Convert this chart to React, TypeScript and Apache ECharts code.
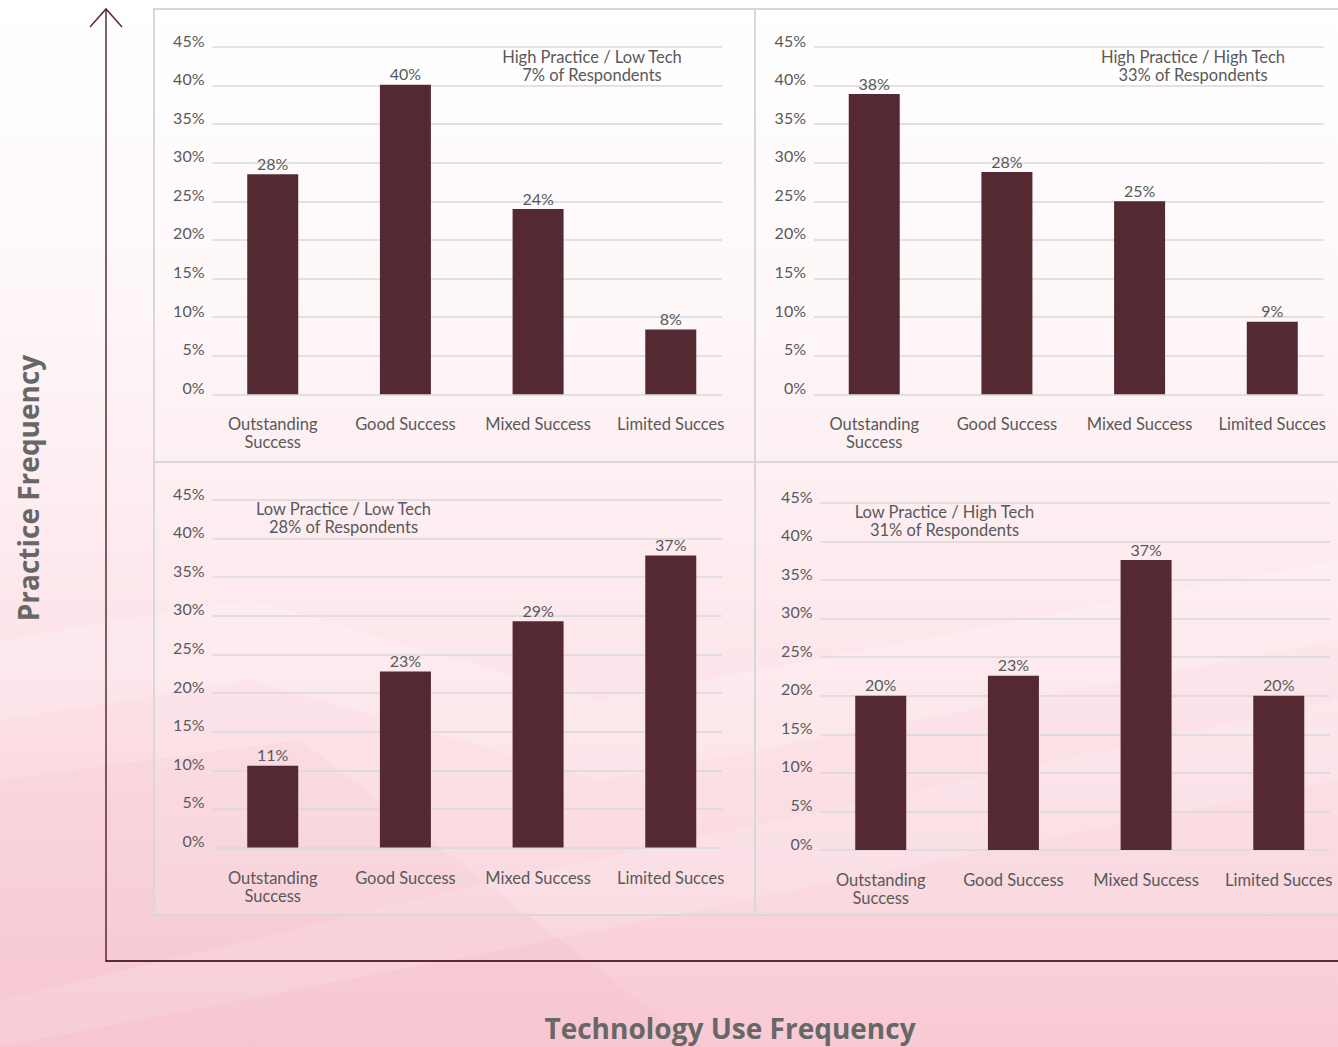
import React, { useEffect, useRef } from "react";
import * as echarts from "echarts";

// ---------- data ----------
const categories = ["Outstanding\nSuccess", "Good Success", "Mixed Success", "Limited Succes"];
const yMin = 0;
const yMax = 45;
const yInterval = 5;

const hpltValues = [28.5, 40.1, 24.0, 8.4];
const hpltLabels = ["28%", "40%", "24%", "8%"];
const hpltTitle = ["High Practice / Low Tech", "7% of Respondents"];

const hphtValues = [38.9, 28.8, 25.0, 9.4];
const hphtLabels = ["38%", "28%", "25%", "9%"];
const hphtTitle = ["High Practice / High Tech", "33% of Respondents"];

const lpltValues = [10.6, 22.8, 29.3, 37.8];
const lpltLabels = ["11%", "23%", "29%", "37%"];
const lpltTitle = ["Low Practice / Low Tech", "28% of Respondents"];

const lphtValues = [20.0, 22.6, 37.6, 20.0];
const lphtLabels = ["20%", "23%", "37%", "20%"];
const lphtTitle = ["Low Practice / High Tech", "31% of Respondents"];

const yAxisName = "Practice Frequency";
const xAxisName = "Technology Use Frequency";

// ---------- styling / layout ----------
const FONT = "Lato, 'Open Sans', sans-serif";
const BOLDFONT = "'Open Sans', Lato, sans-serif";
const TEXT = "#595959";
const AXIS = "#5a2a36";
const GRIDLINE = "#d9d9d9";

type Panel = {
  values: number[];
  labels: string[];
  title: string[];
  dx: number;
  dy: number;
  h: number;
  titleX: number;
  titleY: number;
};

const panels: Panel[] = [
  { values: hpltValues, labels: hpltLabels, title: hpltTitle, dx: 0, dy: 0, h: 347.3, titleX: 592, titleY: 57 },
  { values: hphtValues, labels: hphtLabels, title: hphtTitle, dx: 601.5, dy: 0, h: 347.3, titleX: 1193, titleY: 57 },
  { values: lpltValues, labels: lpltLabels, title: lpltTitle, dx: 0, dy: 453, h: 347.6, titleX: 343.5, titleY: 509 },
  { values: lphtValues, labels: lphtLabels, title: lphtTitle, dx: 608, dy: 456, h: 347, titleX: 944.5, titleY: 512 },
];

function buildOption() {
  const grid: any[] = [];
  const xAxis: any[] = [];
  const yAxis: any[] = [];
  const series: any[] = [];
  const graphic: any[] = [];

  // background
  graphic.push({
    type: "rect",
    z: -100,
    shape: { x: 0, y: 0, width: 1338, height: 1047 },
    style: {
      fill: new echarts.graphic.LinearGradient(0, 0, 0, 1, [
        { offset: 0, color: "#ffffff" },
        { offset: 0.28, color: "#fef7f9" },
        { offset: 0.5, color: "#fdebef" },
        { offset: 0.72, color: "#fcdde4" },
        { offset: 1, color: "#f8cad4" },
      ]),
    },
  });
  // subtle diagonal waves
  graphic.push({
    type: "polygon",
    z: -99,
    shape: { points: [[0, 640], [250, 600], [600, 700], [1338, 560], [1338, 640], [600, 780], [250, 680], [0, 720]] },
    style: { fill: "rgba(255,255,255,0.18)" },
  });
  graphic.push({
    type: "polygon",
    z: -99,
    shape: { points: [[0, 1000], [500, 880], [1338, 700], [1338, 780], [500, 950], [0, 1047]] },
    style: { fill: "rgba(255,255,255,0.15)" },
  });
  graphic.push({
    type: "polygon",
    z: -99,
    shape: { points: [[0, 780], [300, 740], [700, 1047], [0, 1047]] },
    style: { fill: "rgba(240,170,190,0.12)" },
  });

  // panel frame
  graphic.push({
    type: "rect",
    z: -50,
    shape: { x: 154, y: 9, width: 1200, height: 906 },
    style: { fill: "rgba(255,255,255,0.12)", stroke: "#d8d8d8", lineWidth: 2 },
  });
  graphic.push({ type: "line", z: -50, shape: { x1: 755, y1: 9, x2: 755, y2: 915 }, style: { stroke: "#d8d8d8", lineWidth: 2 } });
  graphic.push({ type: "line", z: -50, shape: { x1: 154, y1: 462, x2: 1338, y2: 462 }, style: { stroke: "#d8d8d8", lineWidth: 2 } });

  // main axes arrows
  graphic.push({ type: "line", z: 10, shape: { x1: 106, y1: 9, x2: 106, y2: 961 }, style: { stroke: AXIS, lineWidth: 1.5 } });
  graphic.push({ type: "line", z: 10, shape: { x1: 105.3, y1: 961, x2: 1338, y2: 961 }, style: { stroke: AXIS, lineWidth: 2.2 } });
  graphic.push({
    type: "polyline",
    z: 10,
    shape: { points: [[90, 27], [106, 9], [122, 27]] },
    style: { stroke: AXIS, lineWidth: 1.5, fill: "none" },
  });

  graphic.push({
    type: "text",
    z: 10,
    x: 28,
    y: 488,
    rotation: Math.PI / 2,
    style: {
      text: yAxisName,
      fill: "#676767",
      font: `bold 28px ${BOLDFONT}`,
      align: "center",
      verticalAlign: "middle",
    },
  });
  graphic.push({
    type: "text",
    z: 10,
    x: 730,
    y: 1028,
    style: {
      text: xAxisName,
      fill: "#676767",
      font: `bold 28px ${BOLDFONT}`,
      align: "center",
      verticalAlign: "middle",
    },
  });

  panels.forEach((p, i) => {
    const top = 47 + p.dy;
    // grid for gridlines and y labels
    grid.push({ left: 212.5 + p.dx, top, width: 509.5, height: p.h, outerBoundsMode: "none", containLabel: false });
    // grid for bars
    grid.push({ left: 206.4 + p.dx, top, width: 530.7, height: p.h, outerBoundsMode: "none", containLabel: false });
    const gA = i * 2;
    const gB = i * 2 + 1;
    xAxis.push({ type: "category", gridIndex: gA, data: categories, show: false });
    yAxis.push({
      type: "value",
      gridIndex: gA,
      min: yMin,
      max: yMax,
      interval: yInterval,
      axisLine: { show: false },
      axisTick: { show: false },
      splitLine: { show: true, lineStyle: { color: GRIDLINE, width: 1.6 } },
      axisLabel: {
        formatter: "{value}%",
        color: TEXT,
        fontSize: 16,
        fontFamily: FONT,
        margin: 8,
        verticalAlign: "bottom",
        lineHeight: 14,
      },
    });
    xAxis.push({
      type: "category",
      gridIndex: gB,
      data: categories,
      axisLine: { show: false },
      axisTick: { show: false },
      axisLabel: { color: TEXT, fontSize: 16.5, fontFamily: FONT, margin: 21, lineHeight: 18, interval: 0 },
    });
    yAxis.push({ type: "value", gridIndex: gB, min: yMin, max: yMax, interval: yInterval, show: false, splitLine: { show: false } });
    series.push({
      type: "bar",
      xAxisIndex: gB,
      yAxisIndex: gB,
      data: p.values,
      barWidth: 51,
      itemStyle: { color: "#542932" },
      label: {
        show: true,
        position: "top",
        distance: 3,
        color: TEXT,
        fontSize: 16,
        fontFamily: FONT,
        formatter: (d: any) => p.labels[d.dataIndex],
      },
    });
    graphic.push({
      type: "text",
      z: 10,
      x: p.titleX,
      y: p.titleY + 9,
      style: {
        text: p.title[0] + "\n" + p.title[1],
        fill: TEXT,
        font: `16.5px ${FONT}`,
        lineHeight: 18,
        align: "center",
        verticalAlign: "middle",
      },
    });
  });

  return { animation: false, grid, xAxis, yAxis, series, graphic };
}

export default function App() {
  const ref = useRef<HTMLDivElement>(null);
  useEffect(() => {
    if (!ref.current) return;
    const chart = echarts.init(ref.current, null, { renderer: "svg" });
    chart.setOption(buildOption() as any);
    return () => chart.dispose();
  }, []);
  return (
    <div
      ref={ref}
      style={{ position: "absolute", left: 0, top: 0, width: 1338, height: 1047 }}
    />
  );
}
